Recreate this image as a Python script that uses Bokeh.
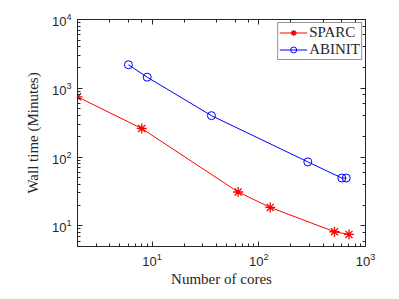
from bokeh.plotting import figure
from bokeh.models import LogAxis, Legend
from bokeh.embed import file_html
from bokeh.resources import INLINE

sparc_cores = [2, 8, 64, 128, 512, 700]
sparc_time = [750, 260, 31, 18.5, 8.2, 7.5]
abinit_cores = [6, 9, 36, 288, 600, 660]
abinit_time = [2200, 1450, 400, 85, 49.5, 49.5]

AX = "#262626"
p = figure(width=383, height=289, x_axis_type="log", y_axis_type="log",
           x_range=(2, 1000), y_range=(5, 10000),
           output_backend="svg", toolbar_location=None,
           min_border_left=77, min_border_right=18, min_border_top=19, min_border_bottom=30)
p.grid.visible = False
p.outline_line_color = AX
p.background_fill_color = "white"

for ax in (p.xaxis[0], p.yaxis[0]):
    ax.major_tick_in = 5
    ax.major_tick_out = 0
    ax.minor_tick_in = 3
    ax.minor_tick_out = 0
    ax.axis_line_color = AX
    ax.major_tick_line_color = AX
    ax.minor_tick_line_color = AX
    ax.major_label_text_font = "Liberation Sans"
    ax.major_label_text_font_size = "13px"
    ax.major_label_text_color = AX
    ax.axis_label_text_font = "Liberation Serif"
    ax.axis_label_text_font_size = "15px"
    ax.axis_label_text_font_style = "normal"
    ax.axis_label_text_color = AX

p.xaxis.axis_label = "Number of cores"
p.yaxis.axis_label = "Wall time (Minutes)"
p.xaxis.major_label_standoff = 6
p.xaxis.axis_label_standoff = 2
p.yaxis.major_label_standoff = 6
p.yaxis.axis_label_standoff = 8

for loc in ("above", "right"):
    a = LogAxis(major_tick_in=5, major_tick_out=0, minor_tick_in=3, minor_tick_out=0,
                major_label_text_font_size="0px", axis_line_color=AX,
                major_tick_line_color=AX, minor_tick_line_color=AX)
    a.major_label_text_alpha = 0
    a.major_label_standoff = 0
    p.add_layout(a, loc)

l1 = p.line(sparc_cores, sparc_time, line_color="#FF0000", line_width=1)
s1 = p.scatter(sparc_cores, sparc_time, marker="asterisk", size=10, line_color="#FF0000", line_width=1.3)
l2 = p.line(abinit_cores, abinit_time, line_color="#0000FF", line_width=1)
s2 = p.scatter(abinit_cores, abinit_time, marker="circle", size=8, line_color="#0000FF",
               fill_color=None, line_width=1)

legend = Legend(items=[("SPARC", [l1, s1]), ("ABINIT", [l2, s2])], location="top_right")
legend.label_text_font = "Liberation Serif"
legend.label_text_font_size = "15px"
legend.label_text_color = AX
legend.border_line_color = AX
legend.border_line_width = 1
legend.padding = 1
legend.spacing = 0
legend.margin = 3
legend.glyph_width = 28
legend.label_height = 15
legend.glyph_height = 15
legend.label_standoff = 2
p.add_layout(legend)

open("out.html", "w").write(file_html(p, INLINE))
